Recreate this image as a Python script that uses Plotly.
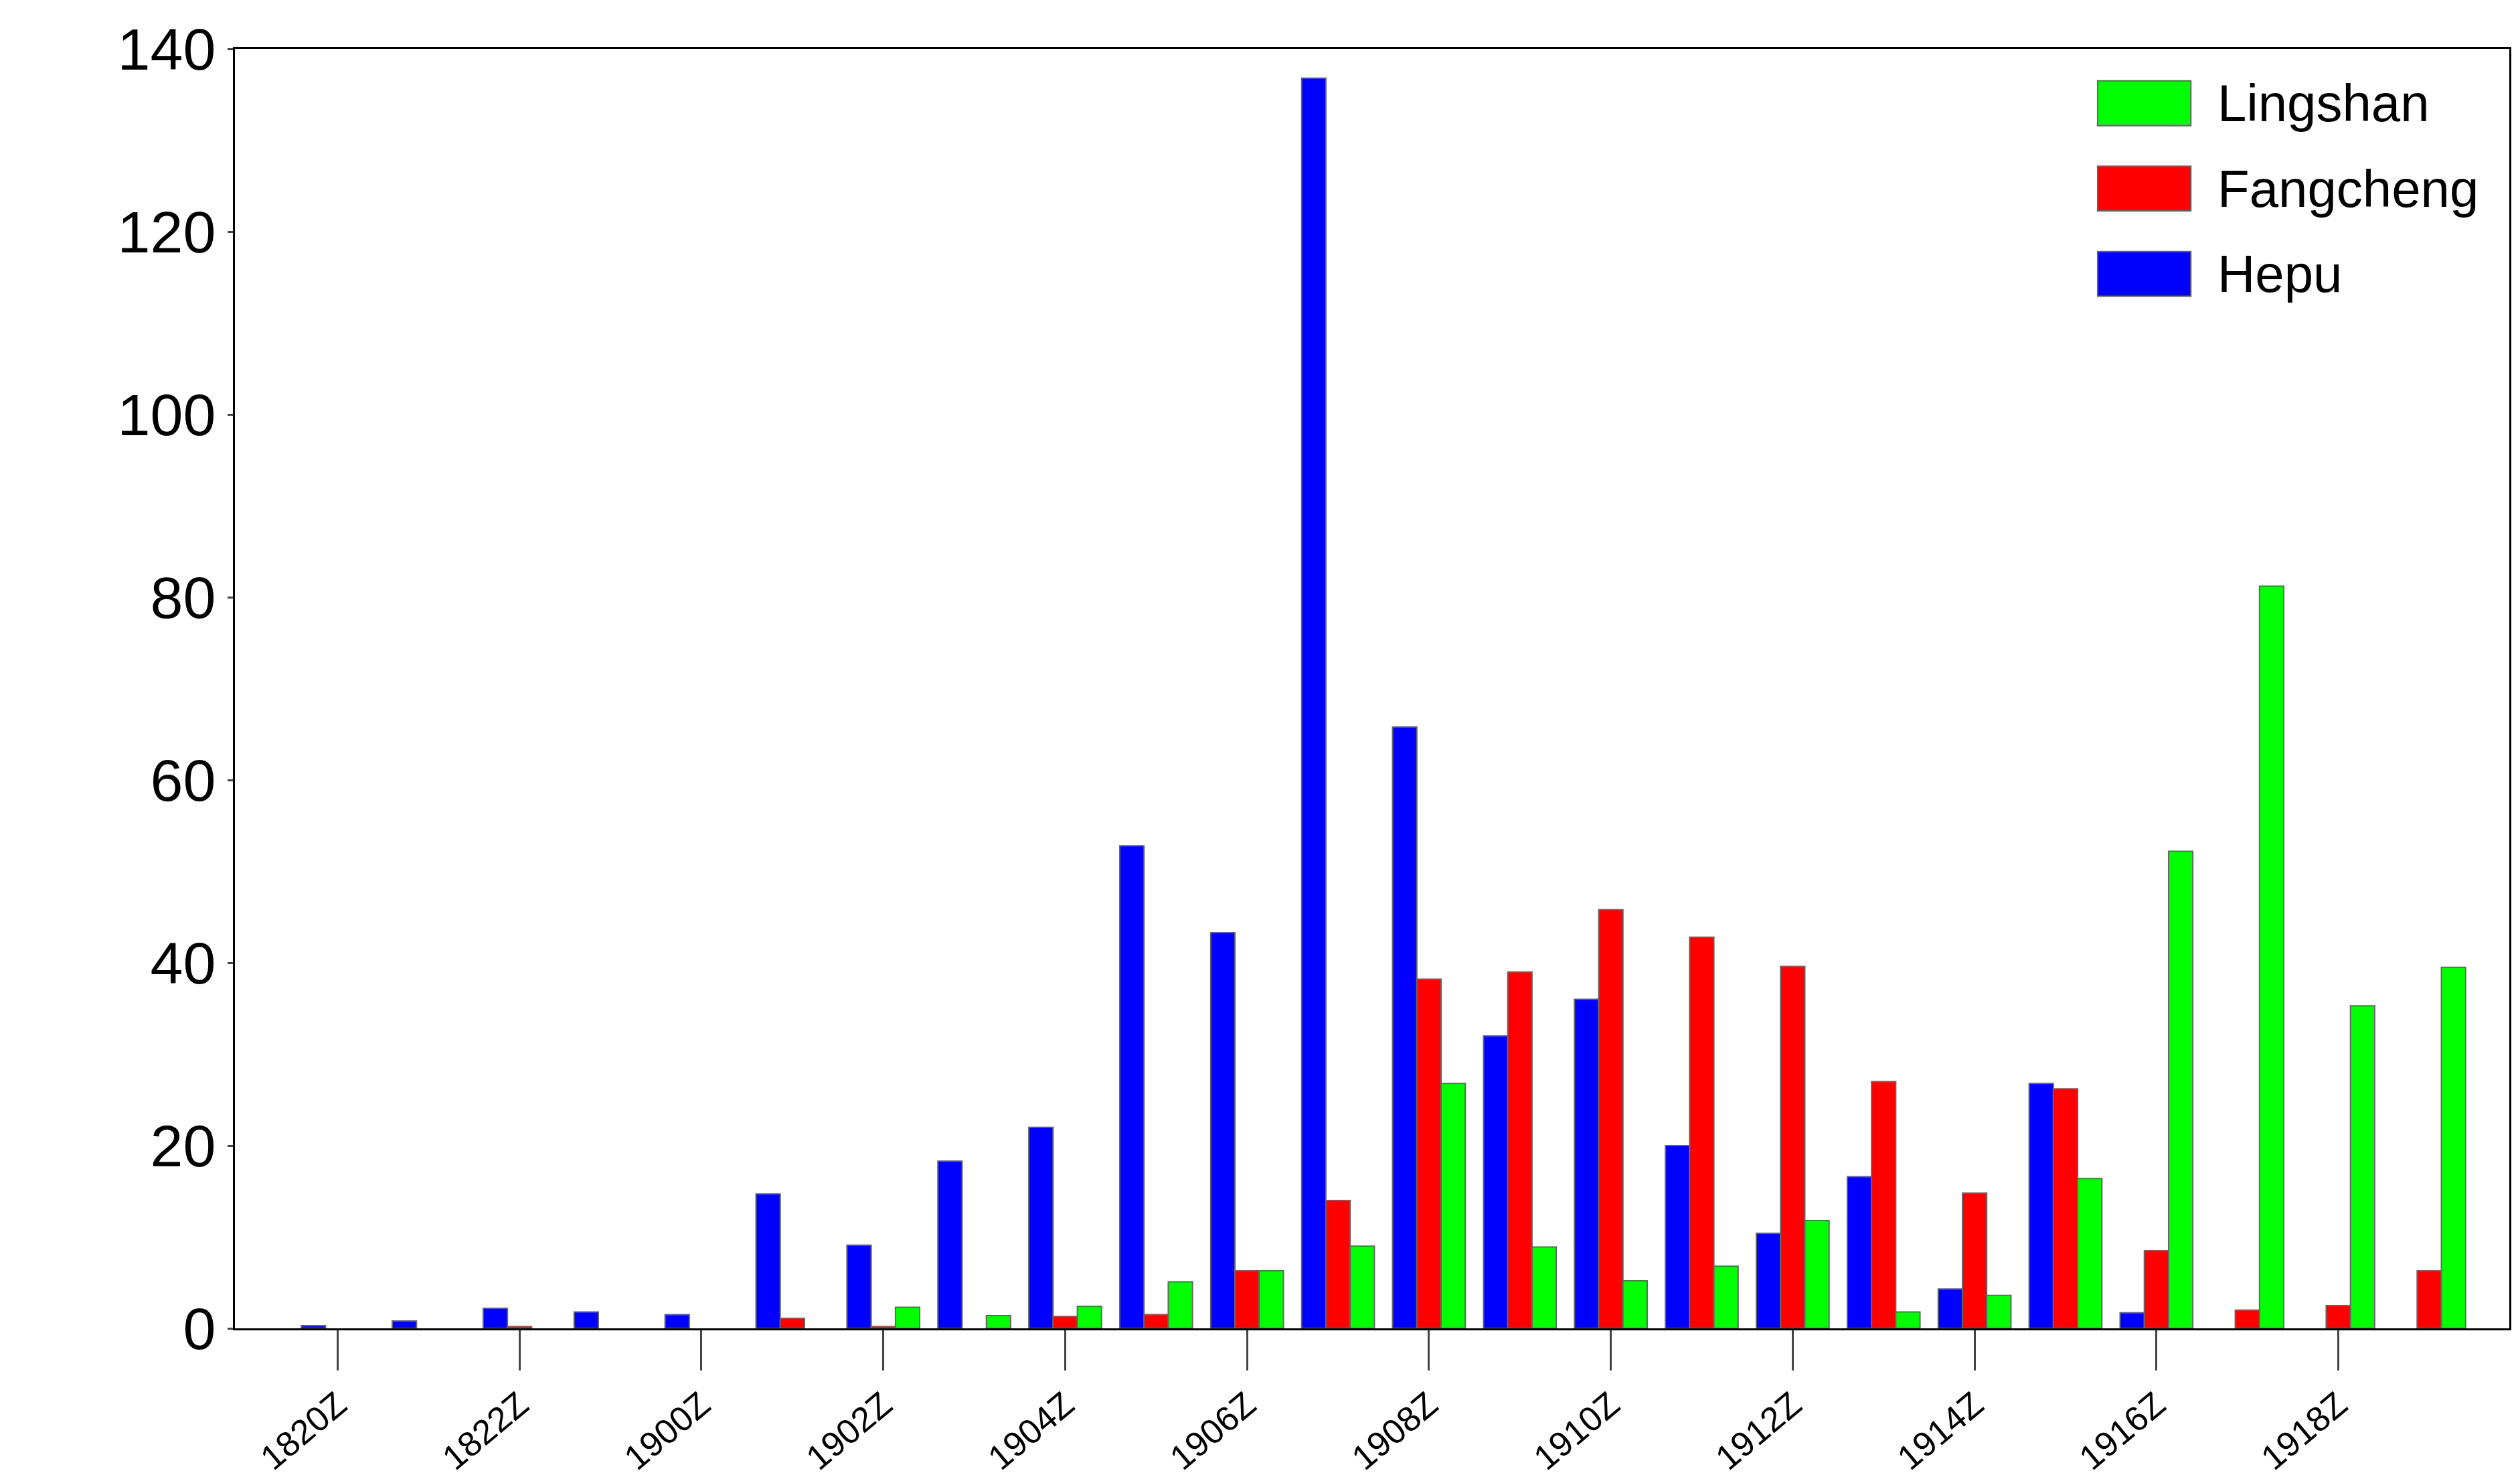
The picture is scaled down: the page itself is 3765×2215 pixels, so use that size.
import plotly.graph_objects as go

categories = ["1820Z","1821Z","1822Z","1823Z"] + ["19%02dZ" % h for h in range(20)]
tick_labels = categories[::2]
hepu = [0.3,0.8,2.2,1.8,1.5,14.7,9.1,18.3,22,52.8,43.3,136.8,65.8,32,36,20,10.4,16.6,4.3,26.8,1.7,0,0,0]
fangcheng = [0,0,0.2,0,0,1.1,0.2,0,1.3,1.5,6.3,14,38.2,39,45.8,42.8,39.6,27,14.8,26.2,8.5,2,2.5,6.3]
lingshan = [0,0,0,0,0,0,2.3,1.4,2.4,5.1,6.3,9,26.8,8.9,5.2,6.8,11.8,1.8,3.6,16.4,52.2,81.2,35.3,39.5]
series = [("Hepu", hepu, "#0000ff"), ("Fangcheng", fangcheng, "#ff0000"), ("Lingshan", lingshan, "#00ff00")]

fig = go.Figure()
for name, vals, col in series:
    fig.add_bar(x=categories, y=[v if v > 0 else None for v in vals], name=name,
                marker=dict(color=col, line=dict(color="#666666", width=2)))

# manual legend (Lingshan top, Hepu bottom)
for i, (name, vals, col) in enumerate(reversed(series)):
    y1 = 0.975 - i * 0.0667
    y0 = y1 - 0.035
    fig.add_shape(type="rect", xref="paper", yref="paper", x0=0.819, x1=0.860, y0=y0, y1=y1,
                  fillcolor=col, line=dict(color="#666666", width=2))
    fig.add_annotation(xref="paper", yref="paper", x=0.871, y=(y0 + y1) / 2, text=name,
                       showarrow=False, xanchor="left", yanchor="middle", font=dict(size=78))

fig.update_layout(
    width=3765, height=2215, barmode="group", bargap=0.2, bargroupgap=0,
    paper_bgcolor="white", plot_bgcolor="white",
    margin=dict(l=343, r=24, t=65, b=239),
    font=dict(family="Liberation Sans, Arial", color="black"),
    showlegend=False,
)
fig.update_xaxes(type="category", categoryorder="array", categoryarray=categories,
                 range=[-1.13, 23.88], tickvals=tick_labels, ticktext=tick_labels,
                 tickangle=-40, tickfont=dict(size=52), ticks="outside", ticklen=60, tickwidth=3,
                 showline=True, linecolor="black", linewidth=3, mirror=True, showgrid=False)
fig.update_yaxes(range=[0, 140], dtick=20, tickfont=dict(size=88), ticks="outside", ticklen=8, tickwidth=3,
                 showline=True, linecolor="black", linewidth=3, mirror=True, showgrid=False, zeroline=False)
fig.write_html("out.html")
